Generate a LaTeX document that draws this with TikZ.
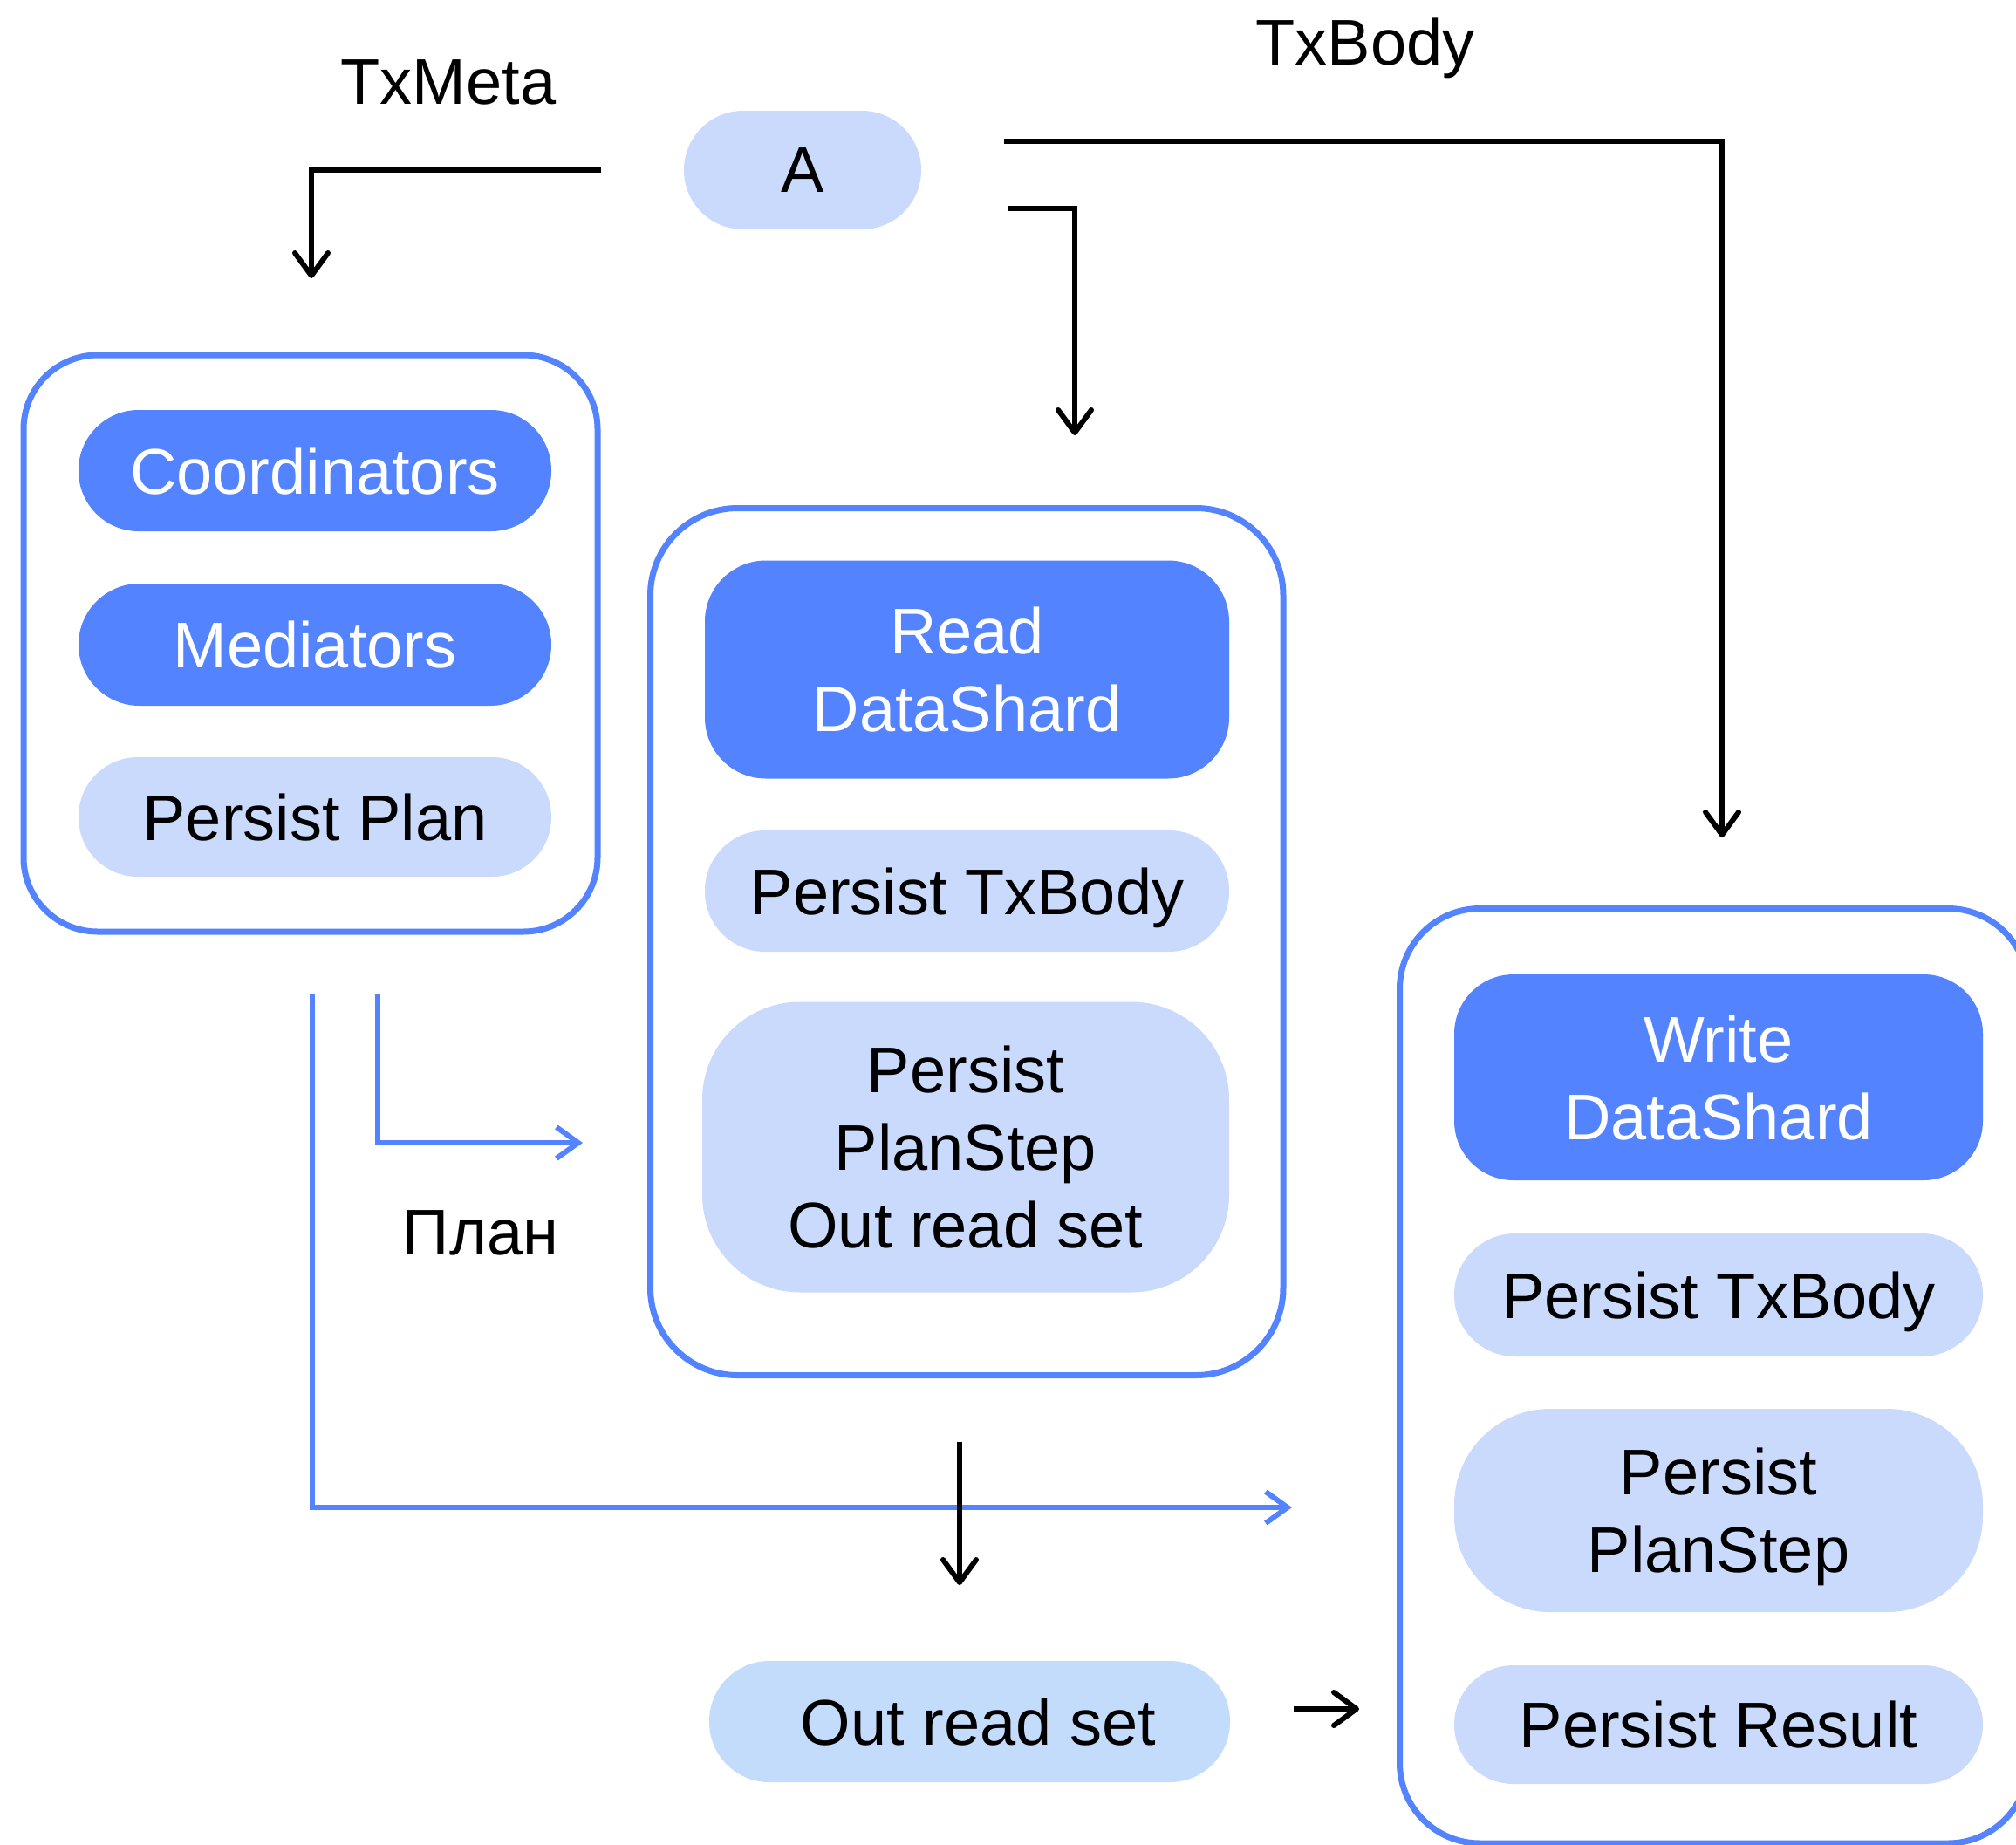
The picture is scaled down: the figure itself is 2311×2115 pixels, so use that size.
\documentclass[tikz,border=0pt]{standalone}
\usepackage{fontspec}
\setmainfont{Liberation Sans}
\usetikzlibrary{arrows.meta}
\definecolor{darkblue}{HTML}{5383FF}
\definecolor{lightblue}{HTML}{C9DAFD}
\definecolor{paleblue}{HTML}{C4DCFB}
\begin{document}
\begin{tikzpicture}[x=1pt,y=-1pt,
  font=\fontsize{74}{89}\selectfont,
  frame/.style={draw=darkblue, line width=7pt, fill=white, inner sep=0pt},
  dark/.style={fill=darkblue, text=white, align=center, inner sep=0pt, text depth=0pt},
  light/.style={fill=lightblue, text=black, align=center, inner sep=0pt, text depth=0pt},
  pale/.style={fill=paleblue, text=black, align=center, inner sep=0pt, text depth=0pt},
  lbl/.style={anchor=base, inner sep=0pt, text=black},
  blackarrow/.style={draw=black, line width=6pt, -{Straight Barb[length=26pt,width=38pt,round]}},
  bluearrow/.style={draw=darkblue, line width=6pt, -{Straight Barb[length=25pt,width=36pt]}}
]
\useasboundingbox[fill=white] (0,0) rectangle (2311,2115);

% labels
\node[lbl] (txmeta) at (514,119) {TxMeta};
\node[lbl] (txbody) at (1565,74) {TxBody};
\node[lbl] (plan) at (551,1438) {План};

% A
\node[light, minimum width=272pt, minimum height=136pt, rounded corners=68pt] (A) at (920,195) {A};

% left frame
\node[frame, minimum width=658pt, minimum height=661pt, rounded corners=85pt] (leftbox) at (356,737.5) {};
\node[dark, minimum width=542pt, minimum height=139pt, rounded corners=69pt] (coord) at (361,539.5) {Coordinators};
\node[dark, minimum width=542pt, minimum height=140pt, rounded corners=70pt] (med) at (361,739) {Mediators};
\node[light, minimum width=542pt, minimum height=137pt, rounded corners=68pt] (pplan) at (361,936.5) {Persist Plan};

% middle frame
\node[frame, minimum width=725.5pt, minimum height=994pt, rounded corners=100pt] (midbox) at (1108.25,1079.5) {};
\node[dark, minimum width=601pt, minimum height=250pt, rounded corners=70pt] (read) at (1108.5,767.5) {Read\\DataShard};
\node[light, minimum width=601pt, minimum height=139pt, rounded corners=69pt] (ptx1) at (1108.5,1021.5) {Persist TxBody};
\node[light, minimum width=604pt, minimum height=333pt, rounded corners=112pt] (pps1) at (1107,1315) {Persist\\PlanStep\\Out read set};

% right frame
\node[frame, minimum width=720.5pt, minimum height=1071.5pt, rounded corners=92pt] (rightbox) at (1964.75,1577.25) {};
\node[dark, minimum width=606pt, minimum height=236pt, rounded corners=68pt] (write) at (1970,1235) {Write\\DataShard};
\node[light, minimum width=606pt, minimum height=141pt, rounded corners=70pt] (ptx2) at (1970,1484.5) {Persist TxBody};
\node[light, minimum width=606pt, minimum height=233pt, rounded corners=110pt] (pps2) at (1970,1731.5) {Persist\\PlanStep};
\node[light, minimum width=606pt, minimum height=136pt, rounded corners=68pt] (pres) at (1970,1977) {Persist Result};

% out read set
\node[pale, minimum width=597pt, minimum height=139pt, rounded corners=69pt] (ors) at (1111.5,1973.5) {\hspace*{20pt}Out read set};

% coordinates for free-ended connectors
\coordinate (m0) at (689,195);  \coordinate (m1) at (357,319);
\coordinate (b0) at (1151,162); \coordinate (b1) at (1974,960);
\coordinate (r0) at (1156,239); \coordinate (r1) at (1232,499);
\coordinate (d0) at (1100,1653); \coordinate (d1) at (1100,1817);
\coordinate (s0) at (1483,1959); \coordinate (s1) at (1558,1959);
\coordinate (p0) at (433,1139); \coordinate (p1) at (668,1310);
\coordinate (q0) at (358,1139); \coordinate (q1) at (1481,1728);

% blue connectors
\draw[bluearrow] (p0) |- (p1);
\draw[bluearrow] (q0) |- (q1);

% black connectors
\draw[blackarrow] (m0) -| (m1);
\draw[blackarrow] (b0) -| (b1);
\draw[blackarrow] (r0) -| (r1);
\draw[blackarrow] (d0) -- (d1);
\draw[blackarrow] (s0) -- (s1);
\end{tikzpicture}
\end{document}
